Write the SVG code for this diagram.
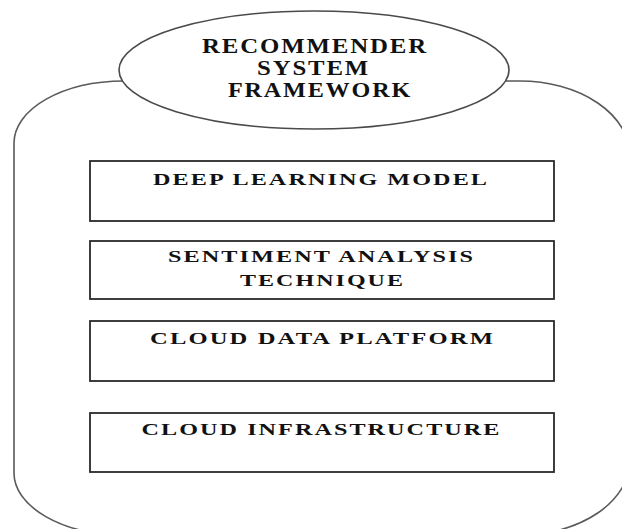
<svg xmlns="http://www.w3.org/2000/svg" width="622" height="529" viewBox="0 0 622 529">
  <style>
    .frame { fill: #ffffff; stroke: #5a5a5a; stroke-width: 1.6; }
    .title-shape { fill: #ffffff; stroke: #4a4a4a; stroke-width: 1.6; }
    .layer { fill: #ffffff; stroke: #2a2a2a; stroke-width: 1.8; }
    .label { font-family: "Liberation Serif", "Times New Roman", serif; font-weight: bold; fill: #111111; letter-spacing: 1.5px; }
    .title { font-size: 20px; }
    .item { font-size: 17.5px; }
  </style>

  <rect width="622" height="529" fill="#ffffff"/>

  <!-- outer container with large rounded corners -->
  <g id="framework-container">
    <path class="frame" d="M 14,143 A 110 62 0 0 1 124,81 L 520,81 A 110 75 0 0 1 630,156 L 630,460 A 110 75 0 0 1 520,535 L 124,535 A 110 62 0 0 1 14,473 Z"/>
  </g>

  <!-- title ellipse -->
  <g id="recommender-system-framework">
    <ellipse class="title-shape" cx="314" cy="70" rx="195" ry="59"/>
    <text class="label title" x="202" y="53" textLength="226" lengthAdjust="spacingAndGlyphs">RECOMMENDER</text>
    <text class="label title" x="257" y="75" textLength="113" lengthAdjust="spacingAndGlyphs">SYSTEM</text>
    <text class="label title" x="228" y="97" textLength="184" lengthAdjust="spacingAndGlyphs">FRAMEWORK</text>
  </g>

  <!-- stacked layers -->
  <g id="deep-learning-model">
    <rect class="layer" x="90" y="161" width="464" height="60"/>
    <text class="label item" x="153" y="185" textLength="336" lengthAdjust="spacingAndGlyphs">DEEP LEARNING MODEL</text>
  </g>

  <g id="sentiment-analysis-technique">
    <rect class="layer" x="90" y="241" width="464" height="58"/>
    <text class="label item" x="168" y="262" textLength="307" lengthAdjust="spacingAndGlyphs">SENTIMENT ANALYSIS</text>
    <text class="label item" x="240" y="286" textLength="165" lengthAdjust="spacingAndGlyphs">TECHNIQUE</text>
  </g>

  <g id="cloud-data-platform">
    <rect class="layer" x="90" y="321" width="464" height="60"/>
    <text class="label item" x="150" y="344" textLength="345" lengthAdjust="spacingAndGlyphs">CLOUD DATA PLATFORM</text>
  </g>

  <g id="cloud-infrastructure">
    <rect class="layer" x="90" y="413" width="464" height="59"/>
    <text class="label item" x="141.5" y="435" textLength="360" lengthAdjust="spacingAndGlyphs">CLOUD INFRASTRUCTURE</text>
  </g>

  <g id="connectors"/>
</svg>
